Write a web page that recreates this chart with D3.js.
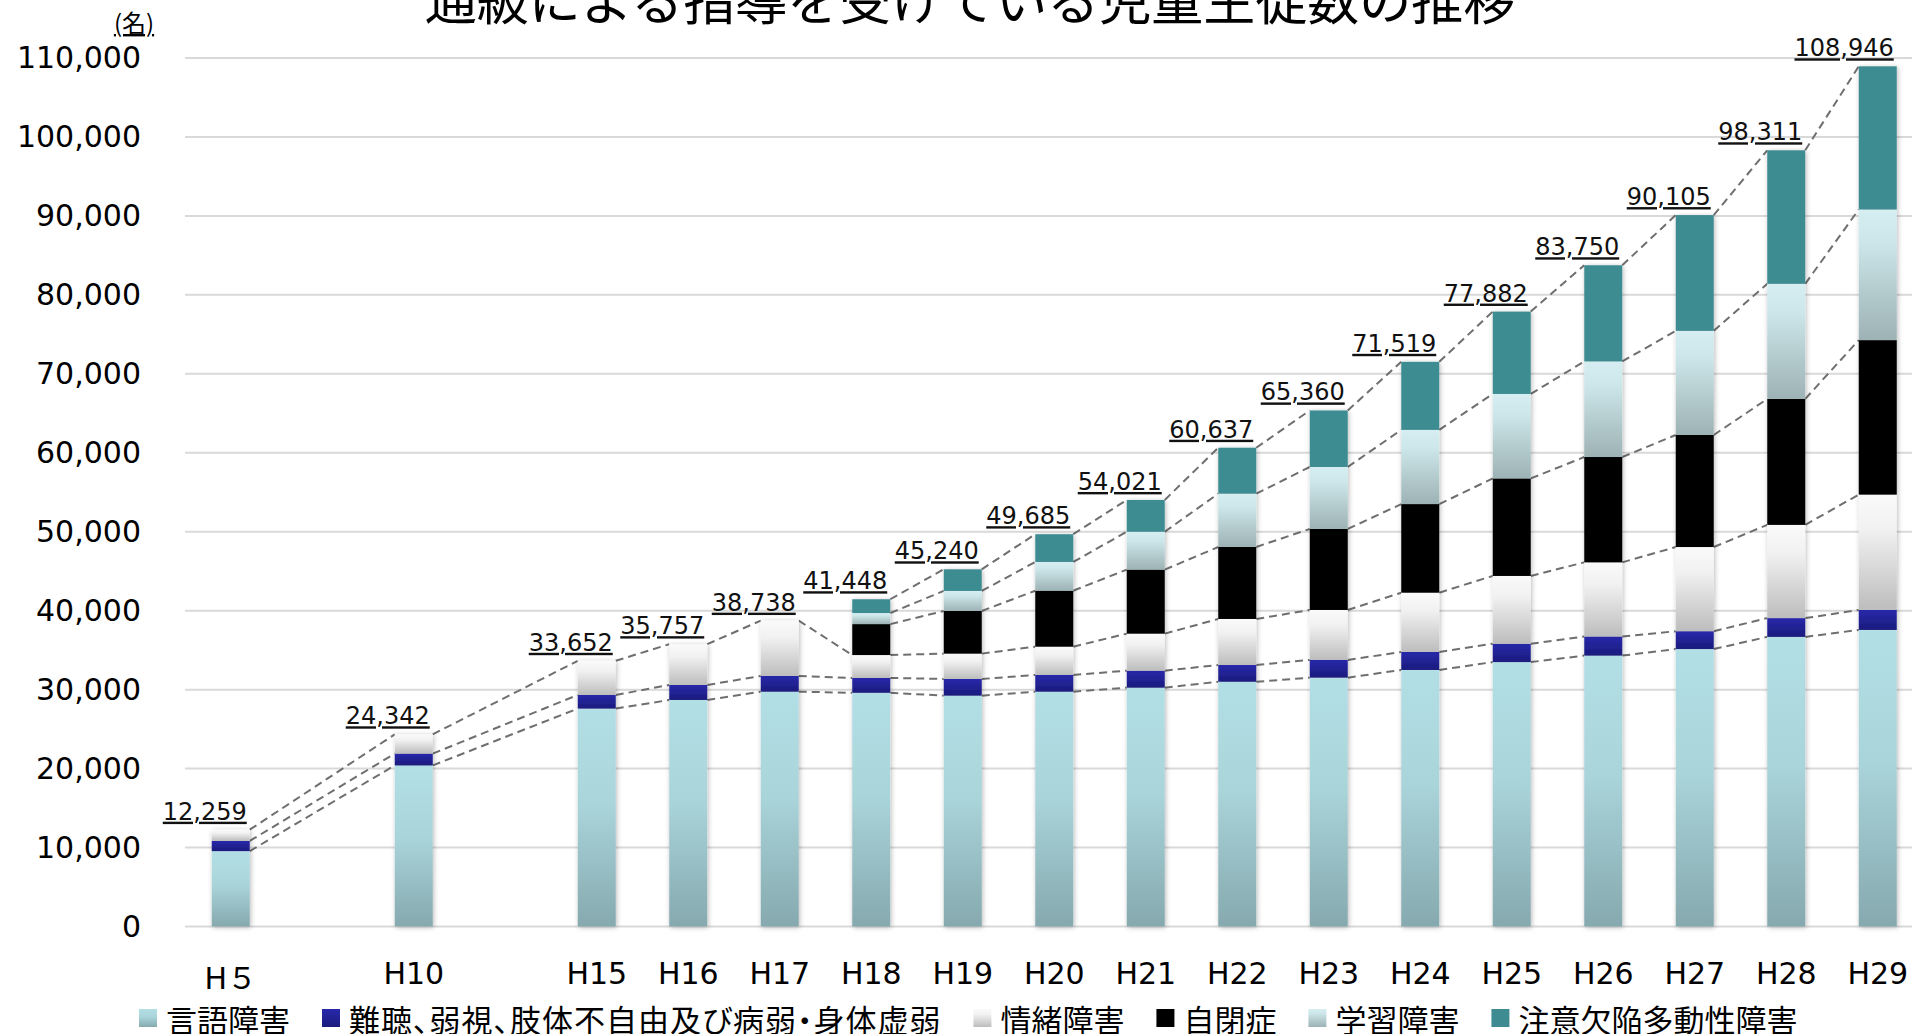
<!DOCTYPE html>
<html>
  <head>
    <meta charset="utf-8">
    <title>通級による指導を受けている児童生徒数の推移</title>
    <style>
      html, body { margin: 0; padding: 0; background: #fff; }
      svg { display: block; }
    </style>
  </head>
  <body>
    <div id="chart"></div>
    <script src="https://cdn.jsdelivr.net/npm/d3@7"></script>
    <script>
      // slots of the category axis, the gaps are empty years
      var slots = ['H５', 'gapA', 'H10', 'gapB', 'H15', 'H16', 'H17', 'H18', 'H19',
        'H20', 'H21', 'H22', 'H23', 'H24', 'H25', 'H26', 'H27', 'H28', 'H29'];
      var categories = ['H５', 'H10', 'H15', 'H16', 'H17', 'H18', 'H19', 'H20',
        'H21', 'H22', 'H23', 'H24', 'H25', 'H26', 'H27', 'H28', 'H29'];
      var seriesNames = ['言語障害', '難聴、弱視、肢体不自由及び病弱・身体虚弱', '情緒障害',
        '自閉症', '学習障害', '注意欠陥多動性障害'];
      var speech = [9547, 20400, 27600, 28690, 29740, 29600, 29240, 29740, 30250,
        31000, 31520, 32490, 33490, 34310, 35140, 36680, 37561];
      var hearing = [1288, 1500, 1720, 1900, 1990, 1880, 2110, 2120, 2150,
        2120, 2240, 2280, 2320, 2420, 2260, 2380, 2530];
      var emotional = [1424, 2442, 4332, 5167, 7008, 2900, 3210, 3580, 4690,
        5830, 6330, 7510, 8590, 9390, 10660, 11810, 14609];
      var autism = [0, 0, 0, 0, 0, 3920, 5400, 7090, 8110,
        9120, 10260, 11220, 12350, 13340, 14190, 15950, 19567];
      var ld = [0, 0, 0, 0, 0, 1400, 2540, 3640, 4800,
        6750, 7850, 9400, 10700, 12110, 13190, 14580, 16545];
      var adhd = [0, 0, 0, 0, 0, 1748, 2740, 3515, 4021,
        5817, 7160, 8619, 10432, 12180, 14665, 16911, 18134];
      var totals = [12259, 24342, 33652, 35757, 38738, 41448, 45240, 49685, 54021,
        60637, 65360, 71519, 77882, 83750, 90105, 98311, 108946];
      var yTicks = [0, 10000, 20000, 30000, 40000, 50000, 60000, 70000, 80000, 90000, 100000, 110000];

      (function(d3) {
        'use strict';
        var width = 1912;
        var height = 1034;
        var allSeries = [speech, hearing, emotional, autism, ld, adhd];
        var fills = [
          [['0%', '#b2dfe5'], ['45%', '#a9d4da'], ['100%', '#85a9ae']],
          [['0%', '#2828aa'], ['100%', '#1b1b7d']],
          [['0%', '#fafafa'], ['30%', '#f1f1f1'], ['100%', '#bdbdbd']],
          [['0%', '#000000'], ['100%', '#000000']],
          [['0%', '#d6eef1'], ['25%', '#cce6e9'], ['100%', '#9db2b4']],
          [['0%', '#3e8c92'], ['100%', '#3e8c92']]
        ];

        var table = categories.map(function(c, i) {
          var row = { cat: c };
          seriesNames.forEach(function(s, k) { row[s] = allSeries[k][i]; });
          return row;
        });
        var stacked = d3.stack().keys(seriesNames)(table);

        var svg = d3.select('#chart')
          .append('svg')
          .attr('width', width)
          .attr('height', height);

        var defs = svg.append('defs');
        fills.forEach(function(stops, k) {
          var g = defs.append('linearGradient')
            .attr('id', 'grad' + k)
            .attr('x1', 0).attr('y1', 0).attr('x2', 0).attr('y2', 1);
          stops.forEach(function(s) {
            g.append('stop').attr('offset', s[0]).attr('stop-color', s[1]);
          });
        });
        defs.append('filter')
          .attr('id', 'shadow')
          .attr('x', '-40%').attr('y', '-5%').attr('width', '180%').attr('height', '110%')
          .append('feDropShadow')
          .attr('dx', 1).attr('dy', 1)
          .attr('stdDeviation', 2.5)
          .attr('flood-color', '#000')
          .attr('flood-opacity', 0.28);

        var x = d3.scaleBand()
          .domain(slots)
          .range([185, 1923.5])
          .paddingInner(0.585)
          .paddingOuter(0.2925);
        var y = d3.scaleLinear()
          .domain([0, 110000])
          .range([926.5, 58]);
        var bw = x.bandwidth();

        // grid lines
        svg.append('g')
          .selectAll('line')
          .data(yTicks)
          .enter()
          .append('line')
          .attr('x1', 185)
          .attr('x2', width)
          .attr('y1', function(d) { return y(d); })
          .attr('y2', function(d) { return y(d); })
          .attr('stroke', '#d9d9d9')
          .attr('stroke-width', 2);

        // y axis labels
        var yAxis = svg.append('g')
          .attr('transform', 'translate(141,0)')
          .call(d3.axisLeft(y).tickValues(yTicks).tickSize(0).tickPadding(0)
            .tickFormat(d3.format(',')));
        yAxis.select('.domain').remove();
        yAxis.selectAll('text')
          .attr('font-family', '"DejaVu Sans", Verdana, sans-serif')
          .attr('font-size', 30)
          .attr('fill', '#000');

        // x axis labels
        var xAxis = svg.append('g')
          .attr('transform', 'translate(0,984)')
          .call(d3.axisBottom(x).tickValues(categories).tickSize(0).tickPadding(0));
        xAxis.select('.domain').remove();
        xAxis.selectAll('text')
          .attr('font-family', '"DejaVu Sans", "Noto Sans CJK JP", sans-serif')
          .attr('font-size', 30)
          .attr('fill', '#000')
          .attr('dy', function(d) { return d === 'H５' ? 5 : 0; })
          .attr('y', 0);

        // dashed series lines
        var lineData = [];
        stacked.forEach(function(layer, k) {
          for (var i = 0; i < categories.length - 1; i++) {
            if (allSeries[k][i] > 0 && allSeries[k][i + 1] > 0) {
              lineData.push({
                x1: x(categories[i]) + bw, y1: y(layer[i][1]),
                x2: x(categories[i + 1]), y2: y(layer[i + 1][1])
              });
            }
          }
        });
        svg.append('g')
          .selectAll('line')
          .data(lineData)
          .enter()
          .append('line')
          .attr('x1', function(d) { return d.x1; })
          .attr('y1', function(d) { return d.y1; })
          .attr('x2', function(d) { return d.x2; })
          .attr('y2', function(d) { return d.y2; })
          .attr('stroke', '#6f6f6f')
          .attr('stroke-width', 2)
          .attr('stroke-dasharray', '8,5');

        // bars, one group per category so the shadow wraps the whole stack
        var bars = svg.append('g')
          .selectAll('g')
          .data(categories)
          .enter()
          .append('g')
          .attr('filter', 'url(#shadow)');
        bars.selectAll('rect')
          .data(function(c, i) {
            return stacked.map(function(layer, k) {
              return { cat: c, k: k, y0: layer[i][0], y1: layer[i][1] };
            }).filter(function(d) { return d.y1 > d.y0; });
          })
          .enter()
          .append('rect')
          .attr('x', function(d) { return x(d.cat); })
          .attr('width', bw)
          .attr('y', function(d) { return y(d.y1); })
          .attr('height', function(d) { return y(d.y0) - y(d.y1); })
          .attr('fill', function(d) { return 'url(#grad' + d.k + ')'; });

        // totals
        svg.append('g')
          .selectAll('text')
          .data(categories)
          .enter()
          .append('text')
          .attr('x', function(c) { return x(c) + bw - 3; })
          .attr('y', function(c, i) { return y(totals[i]) - 10; })
          .attr('text-anchor', 'end')
          .attr('font-family', '"DejaVu Sans", Verdana, sans-serif')
          .attr('font-size', 24)
          .attr('fill', '#111')
          .style('text-decoration', 'underline')
          .text(function(c, i) { return d3.format(',')(totals[i]); });

        // title and unit
        svg.append('text')
          .attr('x', 970)
          .attr('y', 20)
          .attr('text-anchor', 'middle')
          .attr('font-family', '"Noto Sans CJK JP", sans-serif')
          .attr('font-size', 52)
          .attr('fill', '#000')
          .text('通級による指導を受けている児童生徒数の推移');
        svg.append('text')
          .attr('x', 134)
          .attr('y', 32)
          .attr('text-anchor', 'middle')
          .attr('font-family', '"Noto Sans CJK JP", sans-serif')
          .attr('font-size', 24)
          .attr('fill', '#000')
          .style('text-decoration', 'underline')
          .text('(名)');

        // legend
        var legend = svg.append('g').attr('transform', 'translate(139,1018)');
        var lx = 0;
        seriesNames.forEach(function(name, k) {
          var item = legend.append('g').attr('transform', 'translate(' + lx + ',0)');
          item.append('rect')
            .attr('x', 0).attr('y', -9)
            .attr('width', 18).attr('height', 18)
            .attr('fill', 'url(#grad' + k + ')');
          var t = item.append('text')
            .attr('x', 27)
            .attr('y', 0)
            .attr('dominant-baseline', 'central')
            .attr('font-family', '"Noto Sans CJK JP", sans-serif')
            .attr('font-size', 31)
            .attr('fill', '#000')
            .style('font-feature-settings', k === 1 ? '"palt"' : 'normal')
            .style('letter-spacing', k === 1 ? '1px' : 'normal')
            .text(name);
          lx += 27 + t.node().getComputedTextLength() + 32;
        });
      })(window.d3);
    </script>
  </body>
</html>
